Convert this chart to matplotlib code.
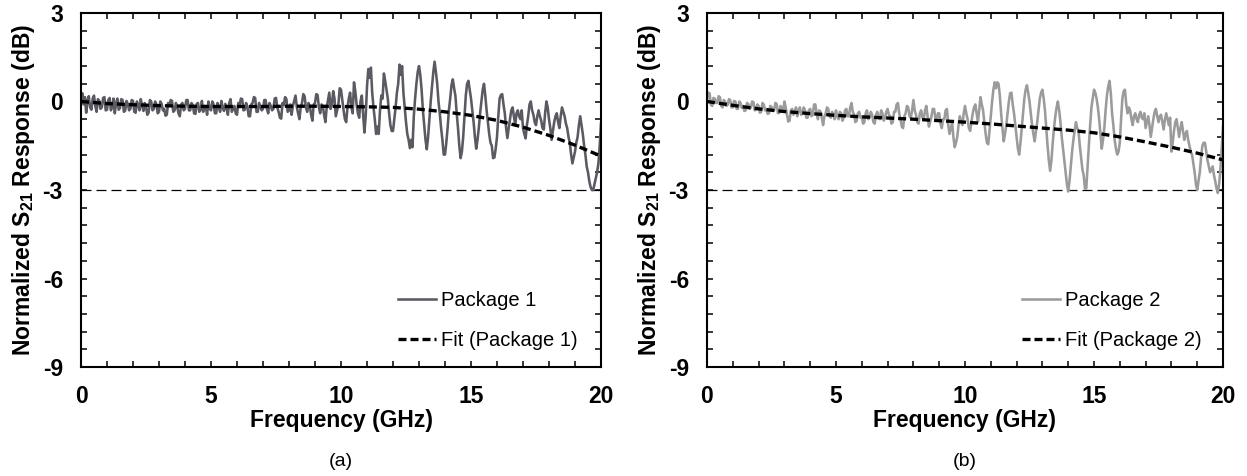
import matplotlib
matplotlib.use("Agg")
import matplotlib.pyplot as plt
from matplotlib.ticker import MultipleLocator
import numpy as np

plt.rcParams["font.family"] = ["Liberation Sans", "DejaVu Sans"]
plt.rcParams["mathtext.fontset"] = "custom"
plt.rcParams["mathtext.rm"] = "Liberation Sans:bold"
plt.rcParams["mathtext.default"] = "rm"
plt.rcParams["axes.unicode_minus"] = False

# measured S21, sampled every 0.05 GHz from 0 to 20 GHz
freq = np.round(np.arange(401) * 0.05, 2)

pkg1 = [
    0.00, 0.28, -0.10, 0.15, -0.38, 0.05, 0.18, -0.20, -0.28, 0.10, 0.20, -0.15, -0.35, 0.08, 0.02, -0.25, -0.20, 0.12, 0.15, -0.30,
    -0.28, 0.05, 0.12, -0.30, -0.18, 0.10, -0.40, -0.05, 0.10, -0.28, -0.22, 0.08, 0.05, -0.35, -0.30, 0.02, -0.08, -0.30, -0.25, 0.05,
    0.02, -0.35, -0.38, 0.00, -0.12, -0.30, 0.08, -0.15, -0.32, -0.05, -0.18, -0.45, -0.38, 0.05, 0.00, -0.30, -0.25, 0.00, -0.10, -0.40,
    -0.35, 0.00, -0.08, -0.30, -0.25, -0.48, -0.45, -0.05, -0.12, 0.05, 0.02, -0.35, -0.30, -0.05, -0.18, -0.40, -0.50, -0.10, -0.05, -0.30,
    -0.25, 0.05, 0.05, -0.30, -0.30, -0.05, -0.12, -0.40, -0.42, -0.08, -0.05, -0.35, -0.28, 0.02, -0.35, -0.15, -0.18, -0.45, 0.00, -0.25,
    -0.30, 0.00, -0.10, -0.40, -0.40, -0.05, -0.18, -0.35, 0.02, -0.22, -0.32, -0.08, -0.22, -0.45, -0.05, 0.08, -0.35, -0.25, -0.15, -0.40,
    -0.45, -0.05, -0.12, 0.10, 0.08, -0.30, -0.28, -0.05, -0.18, -0.50, -0.50, -0.10, -0.05, 0.15, 0.12, -0.35, -0.35, -0.05, -0.18, -0.30,
    -0.25, 0.05, 0.05, -0.25, -0.40, -0.05, -0.15, -0.30, -0.25, 0.10, 0.12, -0.20, -0.35, -0.55, -0.58, -0.05, -0.12, 0.15, 0.08, -0.35,
    -0.30, -0.10, -0.45, -0.15, 0.02, 0.20, -0.18, -0.40, -0.60, -0.20, -0.05, 0.25, 0.18, -0.20, -0.35, -0.05, -0.15, -0.45, -0.65, -0.10,
    -0.05, 0.25, 0.22, -0.20, -0.40, -0.10, -0.15, -0.45, -0.70, -0.20, 0.05, 0.30, -0.25, -0.10, 0.35, 0.10, -0.50, -0.30, -0.10, 0.45,
    0.40, 0.05, -0.30, -0.60, -0.70, -0.20, 0.10, 0.30, -0.20, -0.40, 0.65, 0.35, -0.10, -0.40, -0.55, 0.00, 0.20, -0.40, -1.05, -0.50,
    0.50, 1.10, 0.80, 1.15, 0.30, -0.20, -0.60, -1.10, -0.85, -1.10, -0.30, 0.20, 0.10, 0.95, 0.70, 0.40, 0.10, -0.40, -0.80, -1.00,
    -1.00, -0.60, -0.20, 0.30, 0.60, 1.25, 0.90, 1.20, 0.30, -0.20, -0.70, -1.10, -1.30, -1.58, -1.30, -1.55, -0.50, 0.10, 0.60, 1.00,
    1.20, 0.90, 0.40, -0.30, -0.80, -1.30, -1.62, -1.20, -0.60, 0.00, 0.50, 1.00, 1.35, 1.00, 0.60, 0.00, -0.40, -0.90, -1.30, -1.80,
    -1.80, -1.40, -0.90, -0.30, 0.10, 0.55, 0.75, 0.45, 0.20, -0.40, -0.90, -1.50, -1.92, -1.70, -1.20, -0.50, 0.20, 0.60, 0.70, 0.40,
    0.10, -0.30, -0.70, -1.20, -1.60, -1.30, -0.90, -0.40, 0.00, 0.40, 0.60, 0.20, -0.30, -0.70, -1.10, -1.40, -1.50, -1.92, -1.90, -1.60,
    -1.20, -0.50, 0.10, 0.22, 0.25, -0.10, -0.40, -0.90, -1.24, -0.90, -0.60, -0.30, -0.20, -0.50, -0.80, -0.40, -0.30, -0.50, -0.60, -0.30,
    -0.90, -1.10, -1.25, -0.80, -0.50, -0.10, 0.00, -0.30, -0.45, -0.70, -0.80, -0.50, -0.30, -0.50, -0.65, -0.90, -0.95, -0.40, 0.00, -0.20,
    -0.60, -0.90, -1.30, -1.00, -0.70, -0.50, -0.40, -0.70, -0.90, -0.50, -0.20, -0.35, -0.50, -0.75, -0.90, -1.20, -1.40, -1.80, -2.10, -1.90,
    -1.70, -1.40, -1.20, -0.80, -0.50, -0.80, -1.10, -1.50, -1.80, -2.20, -2.40, -2.70, -2.90, -3.00, -3.00, -2.80, -2.60, -2.40, -2.10, -1.50,
    -0.75,
]

pkg2 = [
    0.05, 0.30, 0.28, -0.10, -0.15, 0.12, 0.10, -0.05, -0.05, 0.18, 0.15, -0.15, -0.20, 0.05, 0.00, -0.15, -0.12, 0.08, 0.05, -0.20,
    -0.20, 0.02, 0.00, -0.25, -0.25, 0.00, -0.05, -0.22, -0.15, -0.32, -0.30, -0.05, -0.08, -0.25, -0.20, 0.00, -0.02, -0.30, -0.28, -0.10,
    -0.15, -0.38, -0.35, -0.05, -0.10, -0.30, -0.25, -0.42, -0.40, -0.15, -0.18, -0.32, -0.30, -0.05, -0.08, -0.40, -0.38, -0.15, -0.22, -0.35,
    0.00, -0.20, -0.45, -0.68, -0.65, -0.30, -0.25, -0.45, -0.35, -0.20, -0.50, -0.30, -0.20, -0.45, -0.40, -0.20, -0.30, -0.55, -0.55, -0.30,
    -0.25, -0.50, -0.45, -0.10, -0.10, -0.40, -0.60, -0.30, -0.35, -0.55, -0.80, -0.50, -0.40, -0.20, -0.25, -0.50, -0.55, -0.35, -0.45, -0.60,
    -0.30, -0.50, -0.60, -0.35, -0.40, -0.65, -0.55, -0.30, -0.25, -0.50, -0.50, -0.20, -0.05, -0.35, -0.45, -0.70, -0.65, -0.40, -0.35, -0.55,
    -0.50, -0.75, -0.70, -0.40, -0.30, -0.60, -0.55, -0.35, -0.45, -0.70, -0.75, -0.45, -0.35, -0.55, -0.60, -0.30, -0.40, -0.65, -0.55, -0.35,
    -0.25, -0.45, -0.50, -0.75, -0.70, -0.35, -0.35, -0.10, -0.05, -0.40, -0.60, -0.85, -0.90, -0.50, -0.40, -0.15, -0.20, -0.50, -0.55, -0.30,
    0.05, -0.30, -0.45, -0.70, -0.75, -0.40, -0.30, -0.55, -0.60, -0.30, -0.15, -0.50, -0.85, -0.70, -0.50, -0.25, -0.25, -0.55, -0.65, -0.40,
    -0.40, -0.75, -0.90, -0.60, -0.60, -0.30, -0.25, -0.80, -1.10, -0.90, -0.70, -1.20, -1.55, -1.40, -1.20, -0.80, -0.50, -0.70, -0.80, -0.40,
    -0.15, -0.40, -0.60, -0.90, -1.00, -0.70, -0.40, -0.20, -0.10, -0.40, -0.70, -0.30, 0.15, -0.10, -0.30, -0.70, -1.10, -1.40, -1.45, -1.00,
    -0.50, 0.00, 0.40, 0.65, 0.45, 0.65, 0.60, 0.20, -0.40, -0.90, -1.35, -1.10, -0.80, -0.40, 0.00, 0.28, 0.30, -0.10, -0.40, -0.80,
    -1.20, -1.60, -1.80, -1.40, -0.90, -0.40, 0.10, 0.40, 0.55, 0.30, 0.00, -0.40, -0.80, -1.10, -1.35, -1.00, -0.70, -0.30, 0.10, 0.30,
    0.40, 0.10, -0.30, -0.90, -1.50, -2.00, -2.35, -2.00, -1.40, -0.90, -0.50, -0.20, 0.00, -0.30, -0.70, -1.20, -1.60, -2.00, -2.40, -2.80,
    -3.05, -2.70, -2.20, -1.70, -1.30, -1.00, -0.70, -0.90, -1.00, -1.50, -1.90, -2.30, -2.50, -2.95, -2.95, -2.20, -1.50, -0.80, -0.20, 0.10,
    0.40, 0.30, 0.10, -0.20, -0.60, -1.10, -1.60, -1.30, -0.90, -0.30, 0.20, 0.50, 0.70, 0.30, -0.40, -0.80, -1.30, -1.60, -1.80, -1.70,
    -1.40, -0.60, 0.10, 0.35, 0.40, -0.10, -0.40, -0.20, -0.30, -0.60, -0.80, -0.50, -0.40, -0.60, -0.70, -0.45, -0.35, -0.55, -0.60, -0.40,
    -0.90, -0.70, -0.50, -0.80, -1.20, -0.90, -0.60, -0.35, -0.25, -0.50, -0.70, -0.50, -0.45, -0.70, -0.95, -0.60, -0.40, -0.60, -0.80, -0.55,
    -1.70, -1.40, -1.00, -0.70, -0.60, -0.90, -1.20, -0.90, -0.70, -1.00, -1.30, -1.10, -1.00, -1.30, -1.50, -1.70, -1.80, -2.10, -2.40, -2.80,
    -3.00, -2.70, -2.40, -1.90, -1.50, -1.40, -1.40, -1.70, -2.00, -2.20, -2.40, -2.30, -2.20, -2.50, -2.70, -2.95, -3.10, -2.80, -2.30, -1.60,
    -0.85,
]

# fitted responses, one point per GHz
fit_freq = np.arange(21)
fit1 = [0.00, -0.07, -0.11, -0.14, -0.16, -0.17, -0.17, -0.17, -0.16, -0.16,
        -0.17, -0.18, -0.20, -0.26, -0.35, -0.47, -0.64, -0.87, -1.15, -1.48, -1.85]
fit2 = [0.00, -0.13, -0.25, -0.34, -0.41, -0.47, -0.52, -0.56, -0.60, -0.65,
        -0.70, -0.76, -0.83, -0.90, -0.97, -1.06, -1.20, -1.37, -1.55, -1.75, -1.98]

panels = [
    ("Package 1", "Fit (Package 1)", pkg1, fit1, "#5a5a62", "(a)"),
    ("Package 2", "Fit (Package 2)", pkg2, fit2, "#9b9b9b", "(b)"),
]

fig = plt.figure(figsize=(12.47, 4.76), dpi=100)
lefts = [81 / 1247, 707 / 1247]
widths = [520 / 1247, 516 / 1247]

for (name, fit_name, data, fit, color, tag), left, width in zip(panels, lefts, widths):
    ax = fig.add_axes([left, 109 / 476, width, 354 / 476])
    ax.axhline(-3, color="black", lw=0.9, dashes=(8, 4), zorder=1)
    ax.plot(freq, data, color=color, lw=1.85, label=name, zorder=2)
    ax.plot(fit_freq, fit, color="black", lw=2.4, dashes=(2.4, 1.2),
            label=fit_name, zorder=3)

    ax.set_xlim(0, 20)
    ax.set_ylim(-9, 3)
    ax.xaxis.set_major_locator(MultipleLocator(5))
    ax.xaxis.set_minor_locator(MultipleLocator(1))
    ax.yaxis.set_major_locator(MultipleLocator(3))
    ax.yaxis.set_minor_locator(MultipleLocator(0.6))
    ax.tick_params(which="both", direction="in", top=True, right=True,
                   length=4.5, width=1.1)
    ax.tick_params(which="major", pad=13, labelsize=16.5)
    for lab in ax.get_xticklabels() + ax.get_yticklabels():
        lab.set_fontweight("bold")
    for sp in ax.spines.values():
        sp.set_linewidth(1.5)

    ax.set_xlabel("Frequency (GHz)", fontsize=16.5, fontweight="bold", labelpad=1)
    ax.set_ylabel(r"Normalized S$_{21}$ Response (dB)", fontsize=16.5,
                  fontweight="bold", labelpad=4)

    ax.legend(loc="upper left", bbox_to_anchor=(0.61, 0.215), frameon=False,
              fontsize=14.5, handlelength=1.9, handletextpad=0.25,
              labelspacing=1.05, borderpad=0, borderaxespad=0)

    fig.text(left + width / 2, 14 / 476, tag, ha="center", va="center",
             fontsize=14)

fig.savefig("out.png", dpi=100)
